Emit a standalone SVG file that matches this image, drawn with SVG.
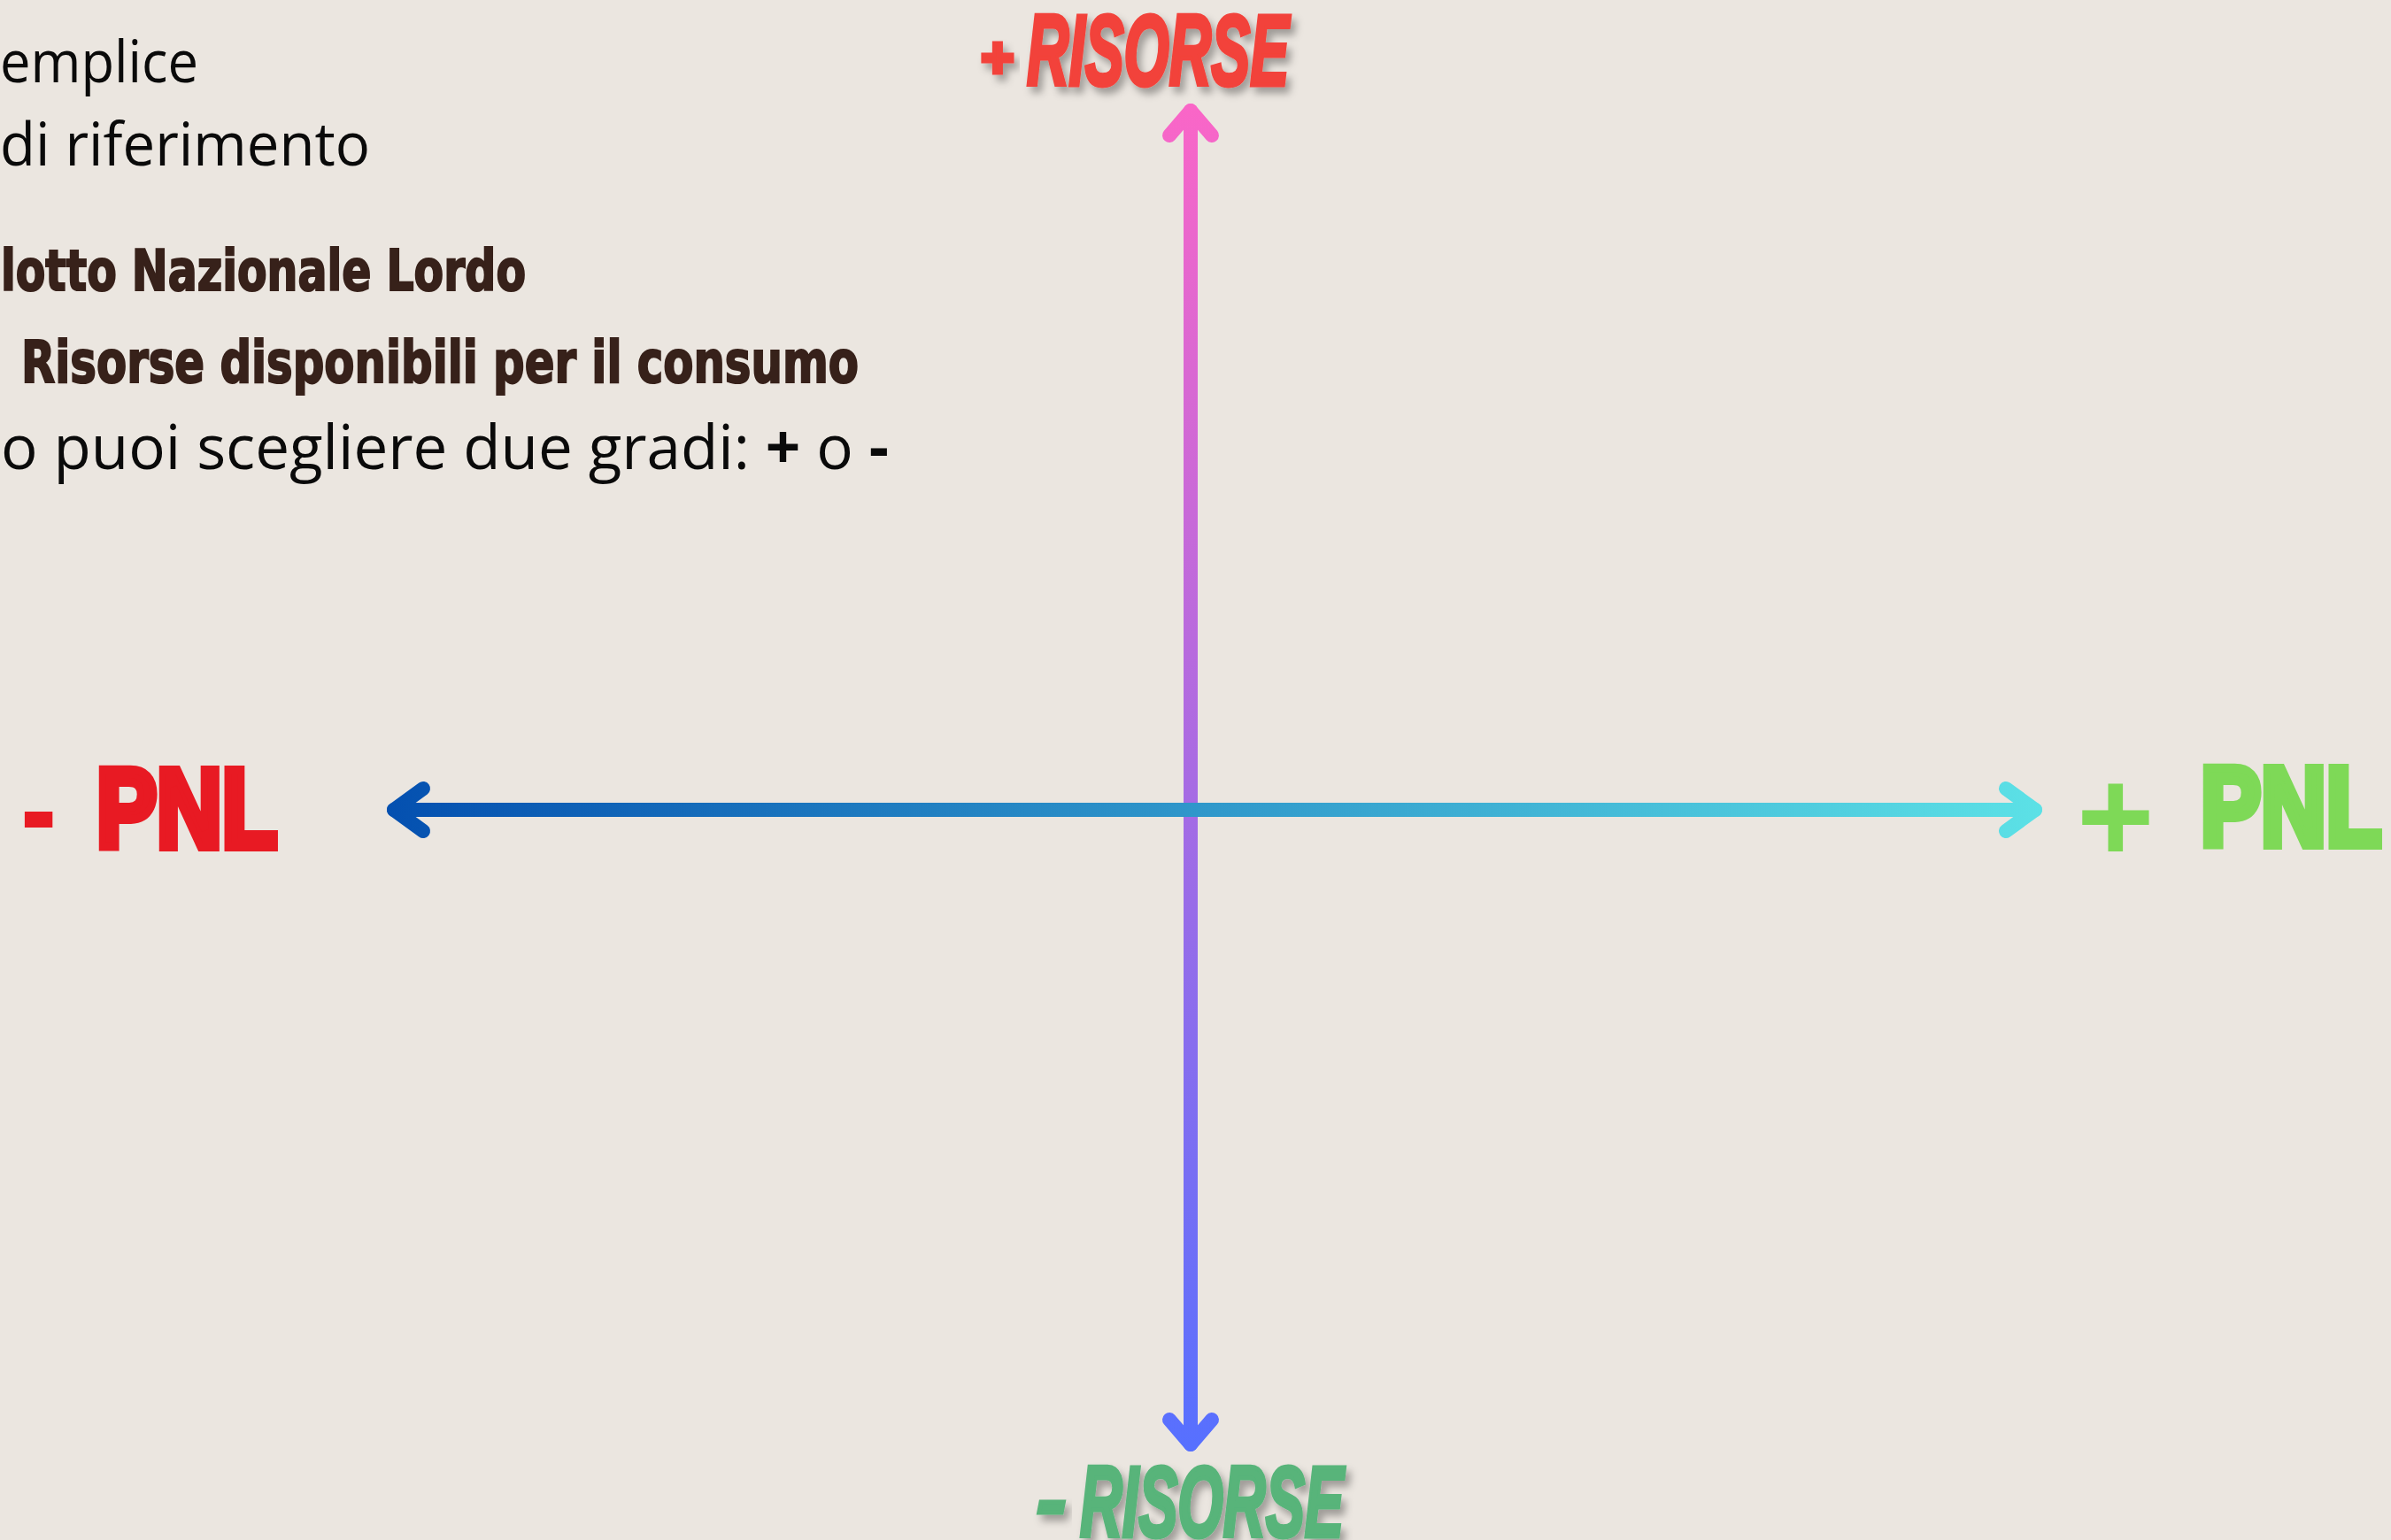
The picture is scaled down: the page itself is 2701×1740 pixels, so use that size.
<svg xmlns="http://www.w3.org/2000/svg" width="2701" height="1740" viewBox="0 0 2701 1740">
  <defs>
    <linearGradient id="gradV" gradientUnits="userSpaceOnUse" x1="0" y1="117" x2="0" y2="1640">
      <stop offset="0" stop-color="#FA66C7"/>
      <stop offset="1" stop-color="#5670FF"/>
    </linearGradient>
    <linearGradient id="gradH" gradientUnits="userSpaceOnUse" x1="437" y1="0" x2="2307" y2="0">
      <stop offset="0" stop-color="#0450B0"/>
      <stop offset="1" stop-color="#5CE1E6"/>
    </linearGradient>
    <filter id="shadow" x="-10%" y="-30%" width="130%" height="170%">
      <feDropShadow dx="5" dy="7" stdDeviation="4" flood-color="#000" flood-opacity="0.32"/>
    </filter>
    <style>
      .body { font-family: "Open Sans", "Noto Sans", "Liberation Sans", sans-serif; fill: #0a0a0a; }
      .brown { font-family: "DejaVu Sans Condensed", "DejaVu Sans", "Liberation Sans", sans-serif; font-weight: bold; fill: #37211A; stroke: #37211A; stroke-width: 2; }
      .ris { font-family: "Liberation Sans Narrow", "Liberation Sans", "DejaVu Sans", sans-serif; font-weight: bold; font-style: italic; stroke-width: 5; stroke-linejoin: miter; filter: url(#shadow); }
      .pnl { font-family: "Liberation Sans", "DejaVu Sans", sans-serif; font-weight: bold; stroke-linejoin: miter; }
      .axis { fill: none; stroke-width: 16; stroke-linecap: round; stroke-linejoin: round; }
    </style>
  </defs>
  <rect x="0" y="0" width="2701" height="1740" fill="#EBE6E0"/>

  <g id="intro-text">
    <text class="body" x="0" y="93" font-size="66" textLength="224" lengthAdjust="spacingAndGlyphs">emplice</text>
    <text class="body" x="0" y="187" font-size="68" textLength="418" lengthAdjust="spacingAndGlyphs">di riferimento</text>
    <text class="brown" x="1" y="328" font-size="64" textLength="593" lengthAdjust="spacingAndGlyphs">lotto Nazionale Lordo</text>
    <text class="brown" x="24" y="432" font-size="66" textLength="946" lengthAdjust="spacingAndGlyphs">Risorse disponibili per il consumo</text>
    <text class="body" x="1" y="530" font-size="69" textLength="1003" lengthAdjust="spacingAndGlyphs">o puoi scegliere due gradi: <tspan font-weight="bold">+</tspan> o <tspan font-weight="bold">-</tspan></text>
  </g>

  <g id="connectors">
    <path class="axis" stroke="url(#gradV)" d="M1345 125 V1632"/>
    <polyline class="axis" stroke="url(#gradV)" points="1321,153 1345,125 1369,153"/>
    <polyline class="axis" stroke="url(#gradV)" points="1321,1604 1345,1632 1369,1604"/>
    <path class="axis" stroke="url(#gradH)" d="M445 915 H2299"/>
    <polyline class="axis" stroke="url(#gradH)" points="478,891 445,915 478,939"/>
    <polyline class="axis" stroke="url(#gradH)" points="2266,891 2299,915 2266,939"/>
  </g>

  <g id="node-plus-risorse">
    <text class="ris" x="1107" y="87" font-size="64" fill="#F2433A" stroke="#F2433A">+</text>
    <text class="ris" x="1160" y="96" font-size="114" fill="#F2433A" stroke="#F2433A" textLength="296" lengthAdjust="spacingAndGlyphs">RISORSE</text>
  </g>

  <g id="node-minus-risorse">
    <text class="ris" x="1171" y="1729" font-size="100" fill="#58B47A" stroke="#58B47A">-</text>
    <text class="ris" x="1220" y="1736" font-size="114" fill="#58B47A" stroke="#58B47A" textLength="298" lengthAdjust="spacingAndGlyphs">RISORSE</text>
  </g>

  <g id="node-minus-pnl">
    <text class="pnl" x="27" y="952" font-size="100" fill="#E81A23" stroke="#E81A23" stroke-width="6">-</text>
    <text class="pnl" x="109" y="957" font-size="126" fill="#E81A23" stroke="#E81A23" stroke-width="10" textLength="204" lengthAdjust="spacingAndGlyphs">PNL</text>
  </g>

  <g id="node-plus-pnl">
    <text class="pnl" x="2346" y="974" font-size="150" fill="#7ED957">+</text>
    <text class="pnl" x="2486" y="955" font-size="126" fill="#7ED957" stroke="#7ED957" stroke-width="10" textLength="204" lengthAdjust="spacingAndGlyphs">PNL</text>
  </g>
</svg>
